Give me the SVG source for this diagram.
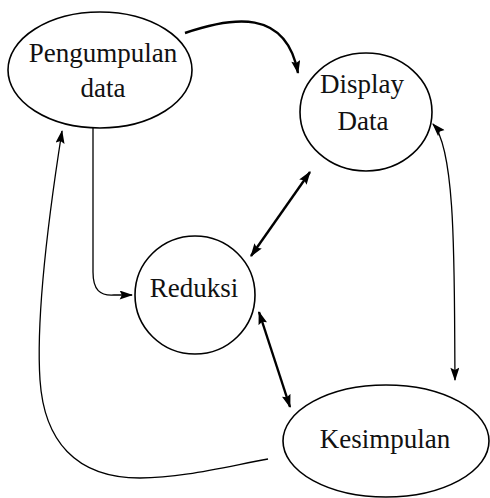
<svg xmlns="http://www.w3.org/2000/svg" width="490" height="498" viewBox="0 0 490 498">
  <defs>
    <marker id="head" viewBox="0 0 12 8" refX="11" refY="4" markerWidth="14" markerHeight="9" markerUnits="userSpaceOnUse" orient="auto-start-reverse">
      <path d="M0,0 L12,4 L0,8 L2,4 z" fill="#000"/>
    </marker>
  </defs>
  <style>
    .node { fill: #fff; stroke: #000; stroke-width: 1.6; }
    .label { font-family: "Liberation Serif", "Times New Roman", serif; font-size: 27px; fill: #111; text-anchor: middle; }
    .link { fill: none; stroke: #000; }
    .thick { stroke-width: 2.4; }
    .thin { stroke-width: 1.3; }
  </style>

  <!-- connectors -->
  <g id="connectors">
    <path class="link thick" d="M185,33 C232,17 286,8 298,73" marker-end="url(#head)"/>
    <path class="link thin" d="M93,128 L93,272 C93,290 100,296 114,295 L132,295" marker-end="url(#head)"/>
    <path class="link thick" d="M251,256 L310,172" marker-start="url(#head)" marker-end="url(#head)"/>
    <path class="link thick" d="M259,312 L290,407" marker-start="url(#head)" marker-end="url(#head)"/>
    <path class="link thin" d="M455,380 C454,280 457,150 433,124" marker-start="url(#head)" marker-end="url(#head)"/>
    <path class="link thin" d="M268,459 C220,468 180,478 140,478 C75,478 44,440 40,380 C36,320 48,220 62,131" marker-end="url(#head)"/>
  </g>

  <g id="pengumpulan">
    <ellipse class="node" cx="100" cy="70" rx="92" ry="58"/>
    <text class="label" x="103" y="62">Pengumpulan</text>
    <text class="label" x="103" y="97">data</text>
  </g>

  <g id="display">
    <ellipse class="node" cx="366" cy="112" rx="66" ry="59"/>
    <text class="label" x="362" y="93">Display</text>
    <text class="label" x="363" y="130">Data</text>
  </g>

  <g id="reduksi">
    <ellipse class="node" cx="195" cy="295" rx="60" ry="59"/>
    <text class="label" x="194" y="297">Reduksi</text>
  </g>

  <g id="kesimpulan">
    <ellipse class="node" cx="386" cy="441" rx="103" ry="56"/>
    <text class="label" x="385" y="448">Kesimpulan</text>
  </g>
</svg>
